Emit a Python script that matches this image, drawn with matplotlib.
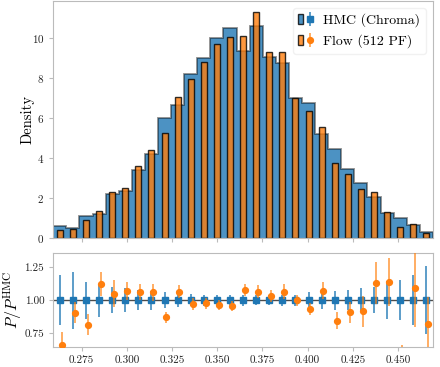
import numpy as np
import matplotlib
matplotlib.use("Agg")
import matplotlib.pyplot as plt
from matplotlib.patches import Patch
from matplotlib.legend_handler import HandlerTuple

plt.rcParams["font.family"] = ["cmr10", "DejaVu Serif"]
plt.rcParams["mathtext.fontset"] = "cm"
plt.rcParams["axes.formatter.use_mathtext"] = True
plt.rcParams["axes.edgecolor"] = "#bbbbbb"
plt.rcParams["xtick.color"] = "#bbbbbb"
plt.rcParams["ytick.color"] = "#bbbbbb"
plt.rcParams["xtick.labelcolor"] = "#222222"
plt.rcParams["ytick.labelcolor"] = "#222222"

# histogram binning (29 bins)
bin_lo, bin_hi, n_bins = 0.2593, 0.4693, 29

# densities
hmc_density = [0.57, 0.48, 1.10, 1.18, 2.18, 2.32, 3.40, 4.18, 6.02, 6.63,
               8.20, 9.02, 10.02, 10.48, 9.37, 10.62, 9.03, 8.77, 7.02, 6.77,
               5.20, 4.43, 3.45, 2.72, 2.03, 1.23, 0.97, 0.63, 0.28]
flow_density = [0.40, 0.43, 0.90, 1.35, 2.27, 2.48, 3.62, 4.42, 5.25, 7.03,
                7.97, 8.82, 9.70, 10.03, 10.10, 11.32, 9.28, 9.32, 7.00, 6.33,
                5.57, 3.75, 3.17, 2.43, 2.28, 1.28, 0.55, 0.68, 0.23]

# ratio panel
hmc_rel_err = [0.19, 0.215, 0.14, 0.125, 0.10, 0.09, 0.075, 0.07, 0.06, 0.05,
               0.045, 0.04, 0.04, 0.038, 0.04, 0.038, 0.038, 0.04, 0.042, 0.058,
               0.063, 0.07, 0.077, 0.09, 0.10, 0.143, 0.15, 0.19, 0.255]
flow_ratio = [0.665, 0.905, 0.815, 1.125, 1.048, 1.07, 1.058, 1.06, 0.87, 1.063,
              0.974, 0.976, 0.965, 0.955, 1.075, 1.065, 1.03, 1.065, 0.998, 0.935,
              1.072, 0.845, 0.91, 0.915, 1.128, 1.135, 0.56, 1.09, 0.822]
flow_ratio_err = [0.095, 0.08, 0.08, 0.09, 0.1, 0.065, 0.06, 0.065, 0.038, 0.05,
                  0.045, 0.04, 0.04, 0.04, 0.045, 0.05, 0.045, 0.055, 0.04, 0.045,
                  0.065, 0.065, 0.08, 0.12, 0.155, 0.18, 0.1, 0.29, 0.2]

edges = np.linspace(bin_lo, bin_hi, n_bins + 1)
centers = 0.5 * (edges[1:] + edges[:-1])
width = edges[1] - edges[0]

fig = plt.figure(figsize=(4.4, 3.67), dpi=100)
ax = fig.add_axes([0.121, 0.352, 0.863, 0.645])
axr = fig.add_axes([0.121, 0.055, 0.863, 0.256], sharex=ax)

# top: densities
ax.stairs(hmc_density, edges, fill=True, color="C0", alpha=0.8, lw=0)
ax.stairs(hmc_density, edges, color="k", alpha=0.45, lw=1.3)
ax.bar(centers, flow_density, width=0.46 * width, color="C1", alpha=0.8,
       edgecolor="k", lw=1.0)
ax.set_ylim(0, 11.85)
ax.set_xlim(bin_lo, bin_hi)
ax.set_ylabel("Density", fontsize=10.5)
ax.yaxis.set_label_coords(-0.05, 0.5)
ax.tick_params(labelsize=8, length=3, labelbottom=False)
ax.set_yticks([0, 2, 4, 6, 8, 10])

# bottom: ratio to HMC
axr.axhline(1.0, color="k", alpha=0.7, lw=1, zorder=1)
eb_hmc = axr.errorbar(centers, np.ones(n_bins), yerr=hmc_rel_err, fmt="s",
                      color="C0", ms=4.2, elinewidth=1.2, ecolor=(0.12, 0.47, 0.71, 0.85),
                      zorder=2)
eb_flow = axr.errorbar(centers + 0.001, flow_ratio, yerr=flow_ratio_err, fmt="o",
                       color="C1", ms=4.2, elinewidth=1.2, ecolor=(1.0, 0.5, 0.05, 0.75),
                       zorder=3)
axr.set_ylim(0.65, 1.355)
axr.set_yticks([0.75, 1.0, 1.25])
axr.set_yticklabels(["0.75", "1.00", "1.25"])
axr.set_xticks([0.275, 0.3, 0.325, 0.35, 0.375, 0.4, 0.425, 0.45])
axr.set_xticklabels(["0.275", "0.300", "0.325", "0.350", "0.375", "0.400", "0.425", "0.450"])
axr.tick_params(labelsize=8, length=3)
axr.set_ylabel(r"$P/P^{\mathrm{HMC}}$", fontsize=11.5)
axr.yaxis.set_label_coords(-0.076, 0.5)

h_hmc = Patch(facecolor="C0", edgecolor="k", alpha=0.8)
h_flow = Patch(facecolor="C1", edgecolor="k", alpha=0.8)
leg = ax.legend([(h_hmc, eb_hmc), (h_flow, eb_flow)],
                ["HMC (Chroma)", "Flow (512 PF)"],
                handler_map={tuple: HandlerTuple(ndivide=None, pad=0.4)},
                loc="upper right", fontsize=10, handlelength=1.0,
                handletextpad=0.8, framealpha=0.8, edgecolor="#eeeeee",
                borderaxespad=0.5)

fig.savefig("out.png", dpi=100)
